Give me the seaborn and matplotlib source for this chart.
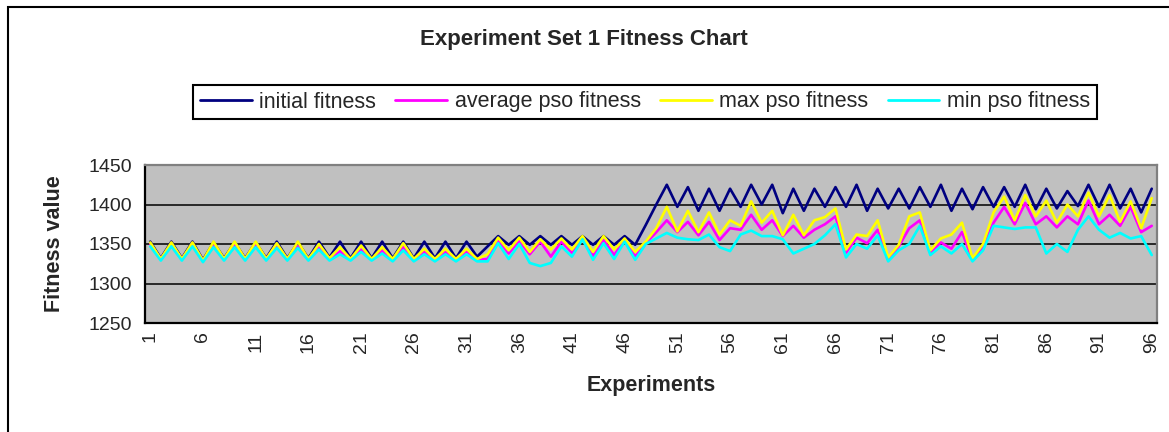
import numpy as np
import pandas as pd
import matplotlib
matplotlib.use("Agg")
import matplotlib.pyplot as plt
from matplotlib.patches import Rectangle
from matplotlib.ticker import FixedLocator
import seaborn as sns

# Experiment numbers 1..96
experiments = list(range(1, 97))

initial_fitness = [
    1353, 1332, 1353, 1332, 1353, 1330, 1352, 1332, 1352, 1332,
    1352, 1332, 1353, 1332, 1352, 1332, 1353, 1333, 1353, 1332,
    1353, 1332, 1353, 1332, 1353, 1332, 1353, 1332, 1353, 1332,
    1353, 1334, 1347, 1360, 1349, 1360, 1349, 1360, 1349, 1360,
    1349, 1360, 1349, 1360, 1349, 1360, 1349, 1374, 1400, 1425,
    1397, 1422, 1392, 1420, 1392, 1420, 1397, 1425, 1400, 1425,
    1389, 1420, 1392, 1420, 1397, 1422, 1397, 1425, 1392, 1420,
    1395, 1420, 1395, 1422, 1397, 1425, 1392, 1420, 1394, 1422,
    1397, 1422, 1397, 1425, 1394, 1420, 1395, 1417, 1398, 1425,
    1397, 1425, 1395, 1420, 1390, 1420,
]

average_pso_fitness = [
    1350, 1331, 1350, 1331, 1350, 1329, 1348, 1331, 1350, 1331,
    1350, 1331, 1349, 1331, 1347, 1331, 1346, 1331, 1341, 1330,
    1343, 1330, 1342, 1330, 1346, 1330, 1341, 1330, 1340, 1330,
    1341, 1330, 1331, 1355, 1338, 1354, 1337, 1353, 1334, 1353,
    1339, 1357, 1335, 1355, 1336, 1355, 1334, 1351, 1365, 1380,
    1365, 1378, 1361, 1378, 1355, 1370, 1368, 1387, 1368, 1380,
    1360, 1373, 1358, 1368, 1375, 1385, 1339, 1358, 1351, 1368,
    1330, 1347, 1370, 1380, 1339, 1352, 1344, 1365, 1330, 1346,
    1377, 1397, 1375, 1402, 1375, 1385, 1371, 1385, 1375, 1405,
    1375, 1387, 1373, 1397, 1365, 1373,
]

max_pso_fitness = [
    1352, 1331, 1352, 1331, 1352, 1329, 1353, 1331, 1353, 1331,
    1353, 1331, 1351, 1331, 1353, 1331, 1350, 1332, 1346, 1331,
    1348, 1331, 1346, 1331, 1351, 1331, 1344, 1331, 1344, 1331,
    1344, 1331, 1337, 1358, 1342, 1358, 1340, 1356, 1343, 1357,
    1343, 1360, 1340, 1360, 1343, 1357, 1340, 1353, 1370, 1397,
    1366, 1392, 1365, 1390, 1362, 1380, 1373, 1404, 1377, 1392,
    1361, 1387, 1361, 1380, 1384, 1395, 1343, 1362, 1360, 1380,
    1333, 1349, 1385, 1390, 1342, 1357, 1362, 1377, 1332, 1350,
    1390, 1410, 1380, 1412, 1385, 1405, 1377, 1400, 1385, 1415,
    1385, 1412, 1378, 1404, 1370, 1408,
]

min_pso_fitness = [
    1347, 1329, 1347, 1329, 1347, 1327, 1346, 1329, 1346, 1329,
    1346, 1329, 1345, 1329, 1345, 1329, 1343, 1329, 1337, 1329,
    1340, 1329, 1338, 1328, 1342, 1328, 1337, 1328, 1337, 1328,
    1337, 1328, 1328, 1351, 1331, 1350, 1326, 1322, 1326, 1347,
    1334, 1356, 1330, 1351, 1331, 1353, 1330, 1350, 1357, 1364,
    1358, 1356, 1355, 1362, 1346, 1341, 1362, 1367, 1360, 1360,
    1356, 1338, 1344, 1350, 1361, 1375, 1333, 1350, 1344, 1361,
    1328, 1342, 1350, 1373, 1336, 1347, 1338, 1350, 1328, 1342,
    1373, 1371, 1369, 1371, 1371, 1338, 1350, 1340, 1368, 1385,
    1368, 1358, 1364, 1357, 1360, 1336,
]

series_names = ["initial fitness", "average pso fitness", "max pso fitness", "min pso fitness"]
series_colors = ["#000080", "#FF00FF", "#FFFF00", "#00FFFF"]
y_ticks = [1250, 1300, 1350, 1400, 1450]
x_tick_labels = [str(n) for n in range(1, 97, 5)]

df = pd.DataFrame({
    "Experiment": experiments * 4,
    "Fitness": initial_fitness + average_pso_fitness + max_pso_fitness + min_pso_fitness,
    "Series": sum([[name] * len(experiments) for name in series_names], []),
})

sns.set_style("white")
plt.rcParams["font.family"] = ["Liberation Sans", "DejaVu Sans"]

W, H = 1169, 432
fig = plt.figure(figsize=(W / 100, H / 100), dpi=100)
fig.patch.set_facecolor("white")

# plot area in pixel coordinates
left, right, top, bottom = 145, 1157, 165, 323
ax = fig.add_axes([left / W, 1 - bottom / H, (right - left) / W, (bottom - top) / H])
ax.set_facecolor("#C0C0C0")

sns.lineplot(
    data=df, x="Experiment", y="Fitness", hue="Series",
    hue_order=series_names, palette=dict(zip(series_names, series_colors)),
    linewidth=1.9, ax=ax, legend=True,
)

ax.set_xlim(0.5, 96.5)
ax.set_ylim(1250, 1450)
ax.set_yticks(y_ticks)
ax.yaxis.grid(True, color="black", linewidth=1.1)
ax.set_axisbelow(True)

# category labels every 5 experiments, tick marks at category boundaries
ax.set_xticks(list(range(1, 97, 5)))
ax.set_xticklabels(x_tick_labels, rotation=90, fontsize=14)
ax.xaxis.set_minor_locator(FixedLocator(np.arange(0.5, 97, 1.0)))
ax.tick_params(axis="x", which="major", length=0, pad=6)
ax.tick_params(axis="x", which="minor", length=5, width=1.5, direction="out", color="black")
ax.tick_params(axis="y", which="major", length=6, width=1.5, direction="out",
               color="black", labelsize=14, pad=3)

for side in ("left", "bottom"):
    ax.spines[side].set_color("black")
    ax.spines[side].set_linewidth(1.6)
for side in ("top", "right"):
    ax.spines[side].set_color("#808080")
    ax.spines[side].set_linewidth(1.6)

ax.set_xlabel("Experiments", fontsize=15.5, fontweight="bold", labelpad=16)
ax.set_ylabel("Fitness value", fontsize=15.5, fontweight="bold", labelpad=17)

handles, labels = ax.get_legend_handles_labels()
ax.get_legend().remove()
for h in handles:
    h.set_linewidth(2)
leg = fig.legend(
    handles, labels, loc="center", bbox_to_anchor=(645 / W, 1 - 102 / H),
    ncol=4, fontsize=15.5, frameon=True, fancybox=False, framealpha=1,
    handlelength=2.4, handletextpad=0.35, columnspacing=0.9, borderpad=0.3,
)
leg.get_frame().set_edgecolor("black")
leg.get_frame().set_linewidth(1.5)

fig.text(584 / W, 1 - 40 / H, "Experiment Set 1 Fitness Chart",
         ha="center", va="center", fontsize=16, fontweight="bold")

# outer chart frame (left and top edges fall inside the canvas)
fig.patches.append(Rectangle((8 / W, -0.5), 2.0, 1.5 - 7 / H, transform=fig.transFigure,
                             fill=False, edgecolor="black", linewidth=1.5))

fig.savefig("out.png", dpi=100)
